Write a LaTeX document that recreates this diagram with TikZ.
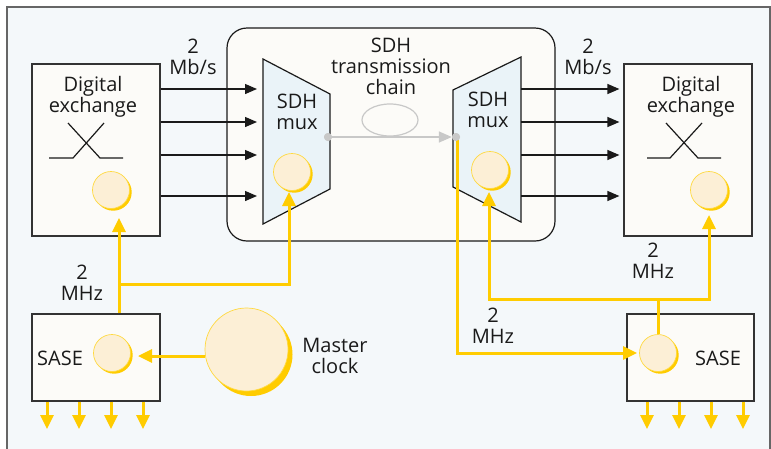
\documentclass[tikz,border=0pt]{standalone}
\usepackage{fontspec}
\setmainfont{Open Sans}
\usetikzlibrary{arrows.meta,shadows,calc}
\definecolor{ylw}{HTML}{FFCC00}
\definecolor{peach}{HTML}{FCEFD6}
\definecolor{bgc}{HTML}{F4F8FA}
\definecolor{boxc}{HTML}{FCFBF8}
\definecolor{muxc}{HTML}{EAF3F8}
\definecolor{gryc}{HTML}{C8C8C8}
\definecolor{txt}{HTML}{1A1A1A}
\begin{document}
\begin{tikzpicture}[x=1pt,y=-1pt,
  lbl/.style={font=\fontsize{20}{21}\selectfont, align=center, inner sep=0pt, text=txt},
  box/.style={draw=black!80, line width=1.2pt, fill=boxc, inner sep=0pt, rectangle},
  clk/.style={circle, draw=ylw!75, line width=0.7pt, fill=peach, inner sep=0pt, minimum size=37pt,
    drop shadow={shadow xshift=2.2pt, shadow yshift=-2.2pt, fill=ylw, opacity=1}},
  bigclk/.style={clk, minimum size=83pt,
    drop shadow={shadow xshift=4.5pt, shadow yshift=-5pt, fill=ylw, opacity=1}},
  blk/.style={draw=txt, line width=1.3pt, -{Triangle[length=12pt,width=10pt]}},
  yl/.style={draw=ylw, line width=3pt, line join=miter},
  yla/.style={yl, -{Triangle[length=14pt,width=13pt]}},
  muxshape/.style={draw=txt, line width=1.2pt, fill=muxc, line join=miter},
  dot/.style={circle, fill=gryc, inner sep=0pt, minimum size=8pt},
  gline/.style={draw=gryc, line width=1.5pt, -{Triangle[length=13pt,width=11pt]}}
]
\useasboundingbox (0,0) rectangle (771,448);
\clip (0,0) rectangle (771,448);
% frame
\fill[bgc] (7,7) rectangle (770,460);
\draw[black!60, line width=1.2pt] (7,460) -- (7,7) -- (770,7) -- (770,460);

% transmission chain box
\draw[txt, line width=1.2pt, fill=boxc, rounded corners=20pt] (227,28) rectangle (555,241);

% digital exchanges
\node[box, minimum width=128pt, minimum height=172pt] (dexL) at (96,150) {};
\node[box, minimum width=128pt, minimum height=172pt] (dexR) at (688,150) {};
\node[lbl] (dexLt) at (93,97) {Digital\\exchange};
\node[lbl] (dexRt) at (691,97) {Digital\\exchange};
\draw[txt, line width=1.2pt] (49,158) -- (73,158) -- (104,123) (68,123) -- (100,158) -- (123,158);
\draw[txt, line width=1.2pt] (647,158) -- (670,158) -- (702,123) (666,123) -- (698,158) -- (721,158);

% SASE boxes
\node[box, minimum width=128pt, minimum height=87pt] (sasL) at (96,357.5) {};
\node[box, minimum width=127pt, minimum height=87pt] (sasR) at (690.5,357.5) {};
\node[lbl] (sasLt) at (60,358) {SASE};
\node[lbl] (sasRt) at (718,358) {SASE};

% multiplexers
\draw[muxshape] (263,59) -- (330,94) -- (330,189) -- (263,224) -- cycle;
\draw[muxshape] (453,90) -- (521,57) -- (521,222) -- (453,187) -- cycle;
\coordinate (muxLw) at (263,137);
\coordinate (muxRe) at (521,137);
\node[lbl] (muxLt) at (297,112) {SDH\\mux};
\node[lbl] (muxRt) at (488,110) {SDH\\mux};

% labels
\node[lbl] (rateL) at (193,57) {2\\Mb/s};
\node[lbl] (rateR) at (588,57) {2\\Mb/s};
\node[lbl] (chain) at (391,66) {SDH\\transmission\\chain};
\node[lbl] (fL) at (82,283) {2\\MHz};
\node[lbl] (fR1) at (493,326) {2\\MHz};
\node[lbl] (fR2) at (653,261) {2\\MHz};
\node[lbl] (mct) at (335,356) {Master\\clock};

% black 2 Mb/s arrows
\foreach \y in {89,122,155,196} {
  \draw[blk, shorten >=6pt] (dexL.east |- 0,\y) -- (muxLw |- 0,\y);
  \draw[blk, shorten >=4pt] (muxRe |- 0,\y) -- (dexR.west |- 0,\y);
}

% grey transmission chain
\draw[gryc, line width=1.2pt] (390,120) ellipse [x radius=28pt, y radius=16pt];
\node[dot] (dotL) at (328,137) {};
\node[dot] (dotR) at (456,137) {};

% clocks
\node[clk] (cDL) at (111,190) {};
\node[clk] (cDR) at (709,190) {};
\node[clk] (cML) at (292,172) {};
\node[clk] (cMR) at (490,170) {};
\node[clk] (cSL) at (112,353) {};
\node[clk] (cSR) at (658,353) {};
\node[bigclk] (mc) at (246.5,349.5) {};

% yellow timing connections
\coordinate (tDL) at (119,218);
\coordinate (tML) at (289,192);
\coordinate (tSL) at (138,356);
\coordinate (tMR) at (489,192);
\coordinate (tDR) at (709,215);
\coordinate (tSR) at (637,353);
\coordinate (jL) at (119,284);
\coordinate (hR) at (658,299);
\draw[yla] (sasL.north -| tDL) -- (tDL);
\draw[yla] (jL) -| (tML);
\draw[yla] (mc.west |- tSL) -- (tSL);
\draw[yla] (dotR.center) ++(1,0) |- (tSR);
\draw[yl] (cSR.north) -- (hR);
\draw[yla] (hR) -| (tDR);
\draw[yla] (hR) -| (tMR);
\foreach \x in {47,79,111,143} \draw[yla] (sasL.south -| \x,0) -- (\x,429);
\foreach \x in {647,679,711,743} \draw[yla] (sasR.south -| \x,0) -- (\x,429);

% grey link drawn on top
\draw[gline] (dotL) -- (dotR);
\node[dot] at (dotL) {};
\node[dot] at (dotR) {};
\end{tikzpicture}
\end{document}
